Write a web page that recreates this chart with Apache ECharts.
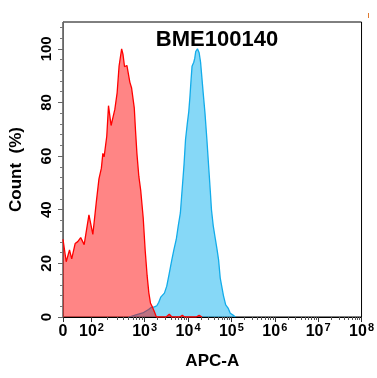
<!DOCTYPE html>
<html>
<head>
<meta charset="utf-8">
<script src="https://cdn.jsdelivr.net/npm/echarts@6/dist/echarts.min.js"></script>
<style>
  html, body { margin: 0; padding: 0; background: #fff; }
  #chart { width: 377px; height: 378px; }
</style>
</head>
<body>
<div id="chart"></div>
<script>
// x values are in display-decade units of the biexponential APC-A axis
// (10^3 -> 3, 10^4 -> 4 ...; the linear region below 10^3 is stretched)
const tickPos = [1.117, 1.774, 3, 4, 5, 6, 7, 8];
const tickExp = ['', '2', '3', '4', '5', '6', '7', '8'];

// unstained / isotype control (red)
const redX = [1.117, 1.191, 1.267, 1.318, 1.397, 1.457, 1.525, 1.605, 1.715, 1.805,
  1.886, 1.946, 2.002, 2.036, 2.065, 2.126, 2.166, 2.226, 2.312, 2.365,
  2.41, 2.469, 2.5, 2.536, 2.59, 2.659, 2.697, 2.731, 2.76, 2.787,
  2.821, 2.865, 2.91, 2.966, 3.011, 3.056, 3.096, 3.135, 3.173, 3.224,
  3.269, 3.493, 3.567, 3.628, 3.807, 3.868, 3.919, 4.188, 4.256, 4.323];
const redY = [29, 20.6, 25, 21.7, 27.4, 28.1, 29.6, 27, 38.1, 30.8,
  43, 51.5, 55.5, 61, 59.7, 67.4, 78.8, 71.4, 77.4, 83.6,
  93.6, 100, 97.9, 93.3, 93.8, 87.5, 85.5, 85.1, 78, 70,
  61, 52.5, 47, 37, 25, 15.5, 9, 5.1, 3.9, 2,
  0, 0, 1, 0, 0, 0.6, 0, 0, 0.6, 0];

// BME100140 stained cells (blue)
const blueX = [2.641, 2.798, 2.955, 3.09, 3.157, 3.224, 3.28, 3.325, 3.37, 3.41,
  3.455, 3.509, 3.567, 3.628, 3.673, 3.729, 3.774, 3.823, 3.852, 3.881,
  3.908, 3.942, 3.982, 4.016, 4.043, 4.07, 4.092, 4.132, 4.155, 4.177,
  4.217, 4.256, 4.289, 4.316, 4.352, 4.39, 4.435, 4.48, 4.513, 4.54,
  4.581, 4.63, 4.67, 4.704, 4.742, 4.778, 4.816, 4.868, 4.928, 4.973,
  5.029, 5.092];
const blueY = [0, 0.8, 1.5, 2.8, 3.6, 3.8, 4.2, 5.5, 7.4, 7,
  8.9, 11.5, 16.3, 21.5, 25, 29, 34, 38.8, 45, 51.2,
  57, 66.2, 72, 76.5, 82, 88.6, 93.5, 95, 96.5, 99,
  100, 98.5, 95, 89.8, 83, 76.1, 66, 55, 47, 40,
  34, 29, 25, 21.3, 14.5, 11.3, 8, 4.5, 3.2, 1.4,
  0.8, 0];

const yTicks = [0, 20, 40, 60, 80, 100];

// log minor ticks: 2..9 x 10^k
const minorX = [];
for (let m = 2; m <= 9; m++) minorX.push(1.774 + Math.log10(m) * 1.226);
for (let k = 3; k < 8; k++) {
  for (let m = 2; m <= 9; m++) minorX.push(k + Math.log10(m));
}
const minorY = [];
for (let v = 4; v <= 108; v += 4) if (v % 20 !== 0) minorY.push(v);

const zip = (xs, ys) => xs.map((x, i) => [x, ys[i]]);

const font = 'Liberation Sans, Arial, sans-serif';
const chart = echarts.init(document.getElementById('chart'));

chart.setOption({
  animation: false,
  title: {
    text: 'BME100140',
    left: 212,
    top: 24,
    textAlign: 'center',
    textStyle: { fontFamily: font, fontSize: 22, fontWeight: 'bold', color: '#000' }
  },
  grid: {
    left: 60, right: 10, top: 22, bottom: 61,
    show: true, borderColor: '#000', borderWidth: 1
  },
  xAxis: [
    {
      type: 'value',
      min: 1.117,
      max: 8,
      name: 'APC-A',
      nameLocation: 'middle',
      nameGap: 36,
      nameTextStyle: { fontFamily: font, fontSize: 17, fontWeight: 'bold', color: '#000' },
      axisLine: { lineStyle: { color: '#000', width: 1 } },
      axisTick: { customValues: tickPos, length: 5, lineStyle: { color: '#333' } },
      splitLine: { show: false },
      axisLabel: {
        customValues: tickPos,
        margin: 5,
        showMaxLabel: true,
        formatter: (v) => {
          let i = tickPos.findIndex((p) => Math.abs(p - v) < 1e-6);
          if (i <= 0) return '{b|0}';
          return '{b|10}{s|' + tickExp[i] + '}';
        },
        rich: {
          b: { fontFamily: font, fontSize: 16, fontWeight: 'bold', color: '#000', lineHeight: 20 },
          s: { fontFamily: font, fontSize: 11, fontWeight: 'bold', color: '#000', verticalAlign: 'top', lineHeight: 20, padding: [0, 0, 9, 1] }
        }
      }
    },
    {
      type: 'value',
      min: 1.117,
      max: 8,
      position: 'bottom',
      axisLine: { show: false },
      axisTick: { customValues: minorX, length: 3, lineStyle: { color: '#555' } },
      axisLabel: { show: false },
      splitLine: { show: false }
    }
  ],
  yAxis: [
    {
      type: 'value',
      min: 0,
      max: 110,
      name: 'Count  (%)',
      nameLocation: 'middle',
      nameGap: 38,
      nameTextStyle: { fontFamily: font, fontSize: 17, fontWeight: 'bold', color: '#000' },
      axisLine: { show: true, lineStyle: { color: '#666', width: 1 } },
      axisTick: { customValues: yTicks, length: 5, lineStyle: { color: '#666' } },
      splitLine: { show: false },
      axisLabel: {
        customValues: yTicks,
        rotate: 90,
        margin: 9,
        fontFamily: font,
        fontSize: 15,
        fontWeight: 'bold',
        color: '#000'
      }
    },
    {
      type: 'value',
      min: 0,
      max: 110,
      position: 'left',
      axisLine: { show: false },
      axisTick: { customValues: minorY, length: 3, lineStyle: { color: '#777' } },
      axisLabel: { show: false },
      splitLine: { show: false }
    }
  ],
  series: [
    {
      name: 'BME100140',
      type: 'line',
      data: zip(blueX, blueY),
      showSymbol: false,
      lineStyle: { color: '#12acea', width: 1.3 },
      areaStyle: { color: 'rgba(14,178,240,0.5)', opacity: 1 },
      z: 2
    },
    {
      name: 'Control',
      type: 'line',
      data: zip(redX, redY),
      showSymbol: false,
      lineStyle: { color: '#ff0000', width: 1.3 },
      areaStyle: { color: 'rgba(255,0,0,0.48)', opacity: 1 },
      z: 3
    }
  ],
  graphic: [
    {
      type: 'line',
      shape: { x1: 368.5, y1: 13, x2: 368.5, y2: 18 },
      style: { stroke: '#e07a30', lineWidth: 1 }
    }
  ]
});
</script>
</body>
</html>
